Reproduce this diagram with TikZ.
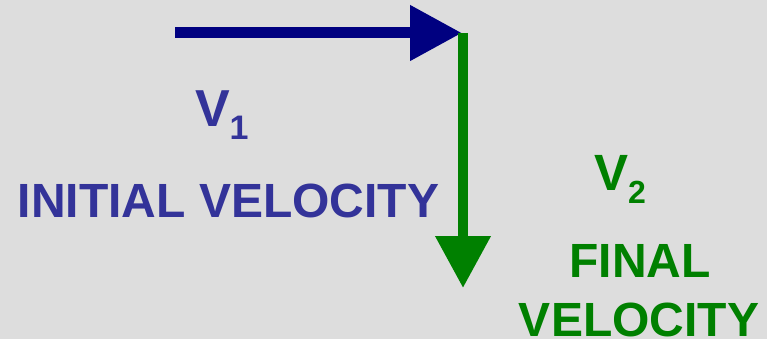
\documentclass[tikz,border=0pt]{standalone}
\usepackage{fontspec}
\setmainfont{Liberation Sans}
\usetikzlibrary{arrows.meta}
\definecolor{bgc}{HTML}{DDDDDD}
\definecolor{arrblue}{HTML}{000080}
\definecolor{txtblue}{HTML}{333399}
\definecolor{arrgreen}{HTML}{008000}
\newcommand{\sublab}[3]{{\fontsize{#1}{#1}\selectfont V}\raisebox{-13pt}{\fontsize{#2}{#2}\selectfont #3}}
\begin{document}
\begin{tikzpicture}[x=1pt,y=-1pt,
  lab/.style={inner sep=0pt,outer sep=0pt,anchor=base,font=\bfseries\fontsize{48}{48}\selectfont},
  vec/.style={line width=11pt,-{Triangle[length=52pt,width=53pt]}}]
\fill[bgc] (0,0) rectangle (767,339);
\useasboundingbox (0,0) rectangle (767,339);
\coordinate (a) at (175,33);
\coordinate (b) at (462,33);
\coordinate (g0) at (463,33);
\coordinate (c) at (463,288);
\draw[vec,arrblue] (a) -- (b);
\draw[vec,arrgreen,line width=10.5pt] (g0) -- (c);
\node[lab,text=txtblue,anchor=base west] (v1) at (195,127) {\sublab{52}{34}{1}};
\node[lab,text=txtblue] (init) at (228.5,217) {INITIAL VELOCITY};
\node[lab,text=arrgreen,anchor=base west] (v2) at (594,190) {\sublab{51}{32}{2}};
\node[lab,text=arrgreen] (fin) at (640,277) {FINAL};
\node[lab,text=arrgreen] (vel) at (639,336) {VELOCITY};
\end{tikzpicture}
\end{document}
